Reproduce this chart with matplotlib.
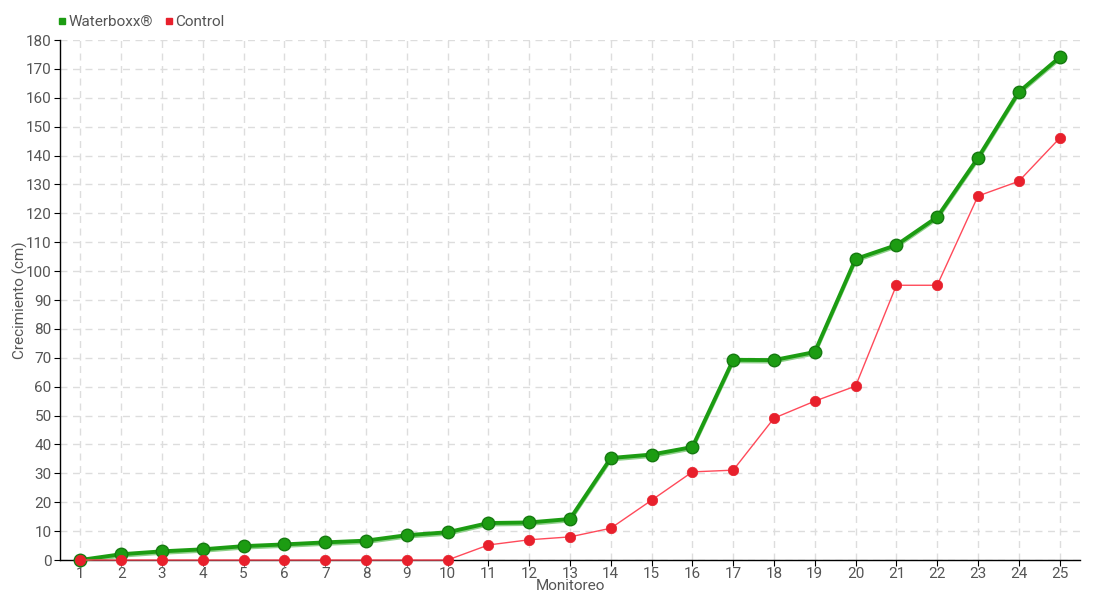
import numpy as np
import matplotlib.pyplot as plt
from matplotlib.lines import Line2D

plt.rcParams['font.family'] = ['Roboto', 'DejaVu Sans']

monitoreo = list(range(1, 26))
waterboxx = [0, 2, 3, 3.7, 4.8, 5.4, 6.1, 6.7, 8.6, 9.6, 12.8, 13, 14.2, 35.3, 36.5,
             39.1, 69.3, 69.2, 72, 104.2, 109, 118.7, 139.2, 162, 174]
control = [0, 0, 0, 0, 0, 0, 0, 0, 0, 0, 5.2, 7, 8, 11, 20.7, 30.5, 31.1, 49.1, 55,
           60.2, 95.1, 95.1, 126, 131.1, 146]

green = '#1c9c12'
red = '#e8202c'
txt = '#555555'

fig = plt.figure(figsize=(11, 6), dpi=100)
ax = fig.add_axes([60/1100, 40/600, 1020/1100, 520/600])

# faint shadow under green line
ax.plot(monitoreo, np.array(waterboxx) - 0.6, color='#8fd08a', lw=2.5, zorder=2)
ax.plot(monitoreo, waterboxx, color=green, lw=2.8, marker='o', ms=9,
        mfc=green, mec='#157a10', mew=1, zorder=4, clip_on=False)
ax.plot(monitoreo, control, color='#ff4a5a', lw=1, marker='o', ms=7.5,
        mfc=red, mec=red, mew=0.5, zorder=5, clip_on=False)

ax.set_xlim(0.5, 25.5)
ax.set_ylim(0, 180)
ax.set_xticks(monitoreo)
ax.set_yticks(range(0, 181, 10))
ax.grid(True, color='#dddddd', ls=(0, (5, 4)), lw=1)
ax.set_axisbelow(True)
for s in ['top', 'right']:
    ax.spines[s].set_visible(False)
for s in ['left', 'bottom']:
    ax.spines[s].set_color('black')
    ax.spines[s].set_linewidth(1)
ax.tick_params(axis='both', colors='black', labelcolor=txt, labelsize=11, length=4)
ax.tick_params(axis='x', pad=1)
ax.tick_params(axis='y', pad=2)

ax.set_xlabel('Monitoreo', color=txt, fontsize=11)
ax.set_ylabel('Crecimiento (cm)', color=txt, fontsize=11)
ax.xaxis.set_label_coords(0.5, -26/520, transform=ax.transAxes)
ax.yaxis.set_label_coords(-40/1020, 0.5, transform=ax.transAxes)
ax.xaxis.label.set_va('center')
ax.yaxis.label.set_va('center')

handles = [Line2D([], [], marker='s', ls='', color=green, ms=5),
           Line2D([], [], marker='s', ls='', color=red, ms=5)]
fig.legend(handles, ['Waterboxx®', 'Control'], loc='center left',
           bbox_to_anchor=(42/1100, 1 - 22/600), ncol=2, frameon=False,
           handletextpad=0.05, columnspacing=0.6, handlelength=0.8,
           fontsize=11, labelcolor=txt)

fig.savefig('out.png', dpi=100)
